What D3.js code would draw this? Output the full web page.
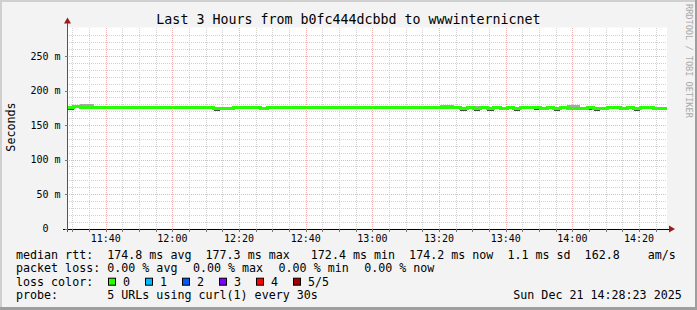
<!DOCTYPE html>
<html>
<head>
<meta charset="utf-8">
<script src="https://cdn.jsdelivr.net/npm/d3@7"></script>
<style>
  body { margin: 0; background: #f3f3f3; }
  svg text { font-family: "DejaVu Sans Mono", monospace; white-space: pre; }
</style>
</head>
<body>
<svg id="chart" width="697" height="310"></svg>
<script>
// smokeping style latency graph, last 3 hours

var titleText = "Last 3 Hours from b0fc444dcbbd to wwwinternicnet";
var startTime = new Date(2025, 11, 21, 11, 28, 23);
var endTime = new Date(2025, 11, 21, 14, 28, 23);
var stepMinutes = 2;

// median rtt per 2 minute step (ms)
var medianRtt = [
  175.6, 176.2, 175.4, 175.8, 175.9, 175.8, 175.7, 175.8, 175.8, 175.7,
  176.1, 175.6, 175.7, 175.8, 175.7, 175.6, 175.7, 175.8, 175.6, 175.7,
  175.9, 175.4, 174.0, 173.5, 174.2, 175.4, 174.9, 175.5, 175.2, 174.6,
  175.4, 175.3, 175.5, 175.0, 175.6, 175.3, 175.4, 175.0, 175.6, 175.4,
  175.2, 175.5, 175.3, 175.0, 175.4, 175.6, 175.4, 175.3, 175.5, 175.2,
  175.4, 175.1, 175.4, 175.3, 175.0, 175.4, 175.2, 175.5, 174.8, 174.3,
  175.1, 174.4, 174.9, 174.2, 175.0, 174.6, 175.2, 174.5, 175.1, 174.9,
  175.3, 174.7, 175.0, 174.4, 175.2, 174.6, 174.1, 174.3, 174.8, 174.0,
  174.3, 174.9, 175.4, 174.6, 175.2, 174.5, 175.1, 175.4, 174.6, 174.2
];
// highest ping of the step (ms)
var pingMax = [
  177.0, 179.5, 180.5, 180.0, 177.2, 177.0, 176.9, 177.0, 177.1, 176.9,
  177.3, 176.8, 176.9, 177.8, 176.9, 176.8, 176.9, 177.0, 176.8, 176.9,
  178.0, 176.6, 176.5, 176.0, 175.4, 176.6, 176.1, 176.7, 176.4, 175.8,
  176.6, 176.5, 176.7, 176.2, 176.8, 176.5, 176.6, 176.2, 177.6, 176.6,
  176.4, 176.7, 176.5, 176.2, 176.6, 177.4, 176.6, 176.5, 176.7, 176.4,
  176.6, 176.3, 176.6, 176.5, 176.2, 176.6, 179.0, 178.8, 176.0, 175.5,
  176.3, 177.5, 176.1, 175.4, 178.0, 175.8, 176.4, 175.7, 176.3, 178.2,
  176.5, 175.9, 176.2, 175.6, 176.4, 179.2, 178.6, 175.5, 176.0, 175.2,
  175.5, 176.1, 176.6, 175.8, 177.8, 175.7, 178.0, 176.6, 175.8, 175.4
];
// lowest ping of the step (ms)
var pingMin = [
  171.8, 175.0, 174.2, 174.6, 174.7, 174.6, 174.5, 174.6, 174.6, 174.5,
  174.9, 174.4, 174.5, 174.6, 174.5, 174.4, 174.5, 174.6, 174.4, 174.5,
  174.7, 174.2, 170.6, 171.4, 172.0, 174.2, 173.7, 174.3, 174.0, 171.9,
  174.2, 174.1, 174.3, 173.8, 174.4, 174.1, 174.2, 173.8, 174.4, 174.2,
  174.0, 174.3, 174.1, 173.8, 174.2, 174.4, 174.2, 174.1, 174.3, 174.0,
  174.2, 173.9, 174.2, 174.1, 173.8, 174.2, 174.0, 174.3, 173.6, 170.9,
  173.9, 170.8, 173.7, 170.7, 173.8, 171.5, 174.0, 171.0, 173.9, 173.7,
  171.6, 173.5, 173.8, 170.9, 174.0, 173.4, 171.2, 173.1, 171.6, 170.6,
  173.1, 173.7, 174.2, 171.4, 174.0, 171.0, 173.9, 174.2, 171.5, 173.0
];

var rttStats = ["174.8 ms avg", "177.3 ms max", "172.4 ms min", "174.2 ms now", "1.1 ms sd", "162.8", "am/s"];
var lossStats = ["0.00 % avg", "0.00 % max", "0.00 % min", "0.00 % now"];
var lossLabels = ["0", "1", "2", "3", "4", "5/5"];
var lossColors = ["#26ff00", "#00b8ff", "#0059ff", "#7e00ff", "#ff0000", "#a10000"];
var probeText = "5 URLs using curl(1) every 30s";
var stampText = "Sun Dec 21 14:28:23 2025";
var creditText = "RRDTOOL / TOBI OETIKER";

var W = 697, H = 310;
var plot = {left: 67, right: 667, top: 28.5, bottom: 228.5};
var charW = 7.02;

var svg = d3.select("#chart");

// frame shading like rrdtool
svg.append("rect").attr("width", W).attr("height", H).attr("fill", "#f3f3f3");
svg.append("path").attr("d", "M0,0H697V2H2V310H0Z").attr("fill", "#cfcfcf");
svg.append("path").attr("d", "M697,0V310H0V307H695V0Z").attr("fill", "#9e9e9e");

var x = d3.scaleTime().domain([startTime, endTime]).range([plot.left, plot.right]);
var y = d3.scaleLinear().domain([0, 0.29]).range([plot.bottom, plot.top]);

svg.append("rect")
    .attr("x", plot.left).attr("y", plot.top - 1)
    .attr("width", plot.right - plot.left).attr("height", plot.bottom - plot.top + 1)
    .attr("fill", "#fff");

var grid = svg.append("g").attr("shape-rendering", "crispEdges");

// minor grid
grid.selectAll("line.xminor").data(x.ticks(d3.timeMinute.every(5)))
  .enter().append("line")
    .attr("x1", function(d) { return Math.round(x(d)) + 0.5; })
    .attr("x2", function(d) { return Math.round(x(d)) + 0.5; })
    .attr("y1", plot.top - 1).attr("y2", plot.bottom)
    .attr("stroke", "#d2d2d2").attr("stroke-dasharray", "1,1");
grid.selectAll("line.yminor").data(d3.range(0.01, 0.29, 0.01))
  .enter().append("line")
    .attr("y1", function(d) { return Math.round(y(d)) + 0.5; })
    .attr("y2", function(d) { return Math.round(y(d)) + 0.5; })
    .attr("x1", plot.left).attr("x2", plot.right)
    .attr("stroke", "#d2d2d2").attr("stroke-dasharray", "1,1");

// major grid
var xMajor = x.ticks(d3.timeMinute.every(20));
var yMajor = [0.05, 0.10, 0.15, 0.20, 0.25];
grid.selectAll("line.xmajor").data(xMajor)
  .enter().append("line")
    .attr("x1", function(d) { return Math.round(x(d)) + 0.5; })
    .attr("x2", function(d) { return Math.round(x(d)) + 0.5; })
    .attr("y1", plot.top - 1).attr("y2", plot.bottom)
    .attr("stroke", "#f4b0b0").attr("stroke-dasharray", "1,1");
grid.selectAll("line.ymajor").data(yMajor)
  .enter().append("line")
    .attr("y1", function(d) { return Math.round(y(d)) + 0.5; })
    .attr("y2", function(d) { return Math.round(y(d)) + 0.5; })
    .attr("x1", plot.left).attr("x2", plot.right)
    .attr("stroke", "#f4b0b0").attr("stroke-dasharray", "1,1");

// smoke
function tAt(i) { return d3.timeMinute.offset(startTime, i * stepMinutes); }
function tEnd(i) { var t = tAt(i + 1); return t > endTime ? endTime : t; }
var smoke = svg.append("g").attr("shape-rendering", "crispEdges");
smoke.selectAll("rect.hi").data(medianRtt).enter().append("rect")
    .attr("x", function(d, i) { return x(tAt(i)); })
    .attr("width", function(d, i) { return x(tEnd(i)) - x(tAt(i)); })
    .attr("y", function(d, i) { return y(pingMax[i] / 1000); })
    .attr("height", function(d, i) { return y(d / 1000) - y(pingMax[i] / 1000); })
    .attr("fill", "#a8a8a8");
smoke.selectAll("rect.lo").data(medianRtt).enter().append("rect")
    .attr("x", function(d, i) { return x(tAt(i)); })
    .attr("width", function(d, i) { return x(tEnd(i)) - x(tAt(i)); })
    .attr("y", function(d) { return y(d / 1000); })
    .attr("height", function(d, i) { return y(pingMin[i] / 1000) - y(d / 1000); })
    .attr("fill", "#4a4a4a");

// median line, coloured by loss (no loss -> green)
var pts = medianRtt.map(function(v, i) { return [tAt(i), v]; });
pts.push([endTime, medianRtt[medianRtt.length - 1]]);
svg.append("path")
    .datum(pts)
    .attr("fill", "none")
    .attr("stroke", lossColors[0])
    .attr("stroke-width", 3)
    .attr("shape-rendering", "crispEdges")
    .attr("d", d3.line()
        .curve(d3.curveStepAfter)
        .x(function(d) { return x(d[0]); })
        .y(function(d) { return y(d[1] / 1000); }));

// axes
var ax = svg.append("g").attr("shape-rendering", "crispEdges");
ax.append("line").attr("x1", plot.left + 0.5).attr("x2", plot.left + 0.5)
    .attr("y1", plot.bottom + 3).attr("y2", plot.top - 6).attr("stroke", "#555");
ax.append("line").attr("x1", plot.left - 4).attr("x2", plot.right + 3)
    .attr("y1", plot.bottom + 0.5).attr("y2", plot.bottom + 0.5).attr("stroke", "#000");
ax.selectAll("line.ytick").data([0].concat(yMajor)).enter().append("line")
    .attr("x1", plot.left - 2).attr("x2", plot.left + 1)
    .attr("y1", function(d) { return Math.round(y(d)) + 0.5; })
    .attr("y2", function(d) { return Math.round(y(d)) + 0.5; })
    .attr("stroke", "#777");
ax.selectAll("line.xtick").data(x.ticks(d3.timeMinute.every(5))).enter().append("line")
    .attr("x1", function(d) { return Math.round(x(d)) + 0.5; })
    .attr("x2", function(d) { return Math.round(x(d)) + 0.5; })
    .attr("y1", plot.bottom).attr("y2", plot.bottom + 3)
    .attr("stroke", "#777");
svg.append("path").attr("d", "M" + (plot.left - 3) + "," + (plot.top - 5) + "L" + (plot.left + 0.5) + "," + (plot.top - 11) + "L" + (plot.left + 4) + "," + (plot.top - 5) + "Z")
    .attr("fill", "#9b1c1c");
svg.append("path").attr("d", "M" + (plot.right + 2) + "," + (plot.bottom - 3) + "L" + (plot.right + 8) + "," + (plot.bottom + 0.5) + "L" + (plot.right + 2) + "," + (plot.bottom + 4) + "Z")
    .attr("fill", "#9b1c1c");

// tick labels
svg.selectAll("text.ylab").data([0].concat(yMajor)).enter().append("text")
    .attr("x", plot.left - 6.5)
    .attr("y", function(d) { return y(d) + 3.5; })
    .attr("text-anchor", "end")
    .attr("font-size", 10)
    .attr("fill", "#000")
    .text(function(d) { return d === 0 ? "0  " : Math.round(d * 1000) + " m"; });
var fmt = d3.timeFormat("%H:%M");
svg.selectAll("text.xlab").data(xMajor).enter().append("text")
    .attr("x", function(d) { return x(d); })
    .attr("y", 241.5)
    .attr("text-anchor", "middle")
    .attr("font-size", 10)
    .attr("fill", "#000")
    .text(fmt);

// title, axis title, credit
svg.append("text").attr("x", 348.5).attr("y", 23.5).attr("text-anchor", "middle")
    .attr("font-size", 13.3).attr("fill", "#000").text(titleText);
svg.append("text").attr("transform", "translate(14.5,127) rotate(-90)")
    .attr("text-anchor", "middle").attr("font-size", 11.7).attr("fill", "#000").text("Seconds");
svg.append("text").attr("transform", "translate(685.5,4) rotate(90)")
    .attr("font-size", 8.6).attr("fill", "#aaaaaa").text(creditText);

// legend
var legendX = 16;
var rows = [258.5, 272.1, 285.7, 299.3];
function colX(c) { return legendX + c * charW; }
var leg = svg.append("g").attr("font-size", 11.67).attr("fill", "#000");

leg.append("text").attr("x", colX(0)).attr("y", rows[0]).text("median rtt:");
var rttCols = [13, 27, 42, 56, 70, 81, 90];
rttStats.forEach(function(s, i) {
  leg.append("text").attr("x", colX(rttCols[i])).attr("y", rows[0]).text(s);
});

leg.append("text").attr("x", colX(0)).attr("y", rows[1]).text("packet loss:");
lossStats.forEach(function(s, i) {
  leg.append("text").attr("x", colX(13 + i * 12.2)).attr("y", rows[1]).text(s);
});

leg.append("text").attr("x", colX(0)).attr("y", rows[2]).text("loss color:");
lossLabels.forEach(function(s, i) {
  var bx = 108.5 + i * 37;
  leg.append("rect").attr("x", bx).attr("y", rows[2] - 7.5)
      .attr("width", 7).attr("height", 7)
      .attr("fill", lossColors[i]).attr("stroke", "#000").attr("stroke-width", 1);
  leg.append("text").attr("x", bx + 14.5).attr("y", rows[2]).text(s);
});

leg.append("text").attr("x", colX(0)).attr("y", rows[3]).text("probe:");
leg.append("text").attr("x", colX(13)).attr("y", rows[3]).text(probeText);
leg.append("text").attr("x", 513.3).attr("y", rows[3]).text(stampText);
</script>
</body>
</html>
